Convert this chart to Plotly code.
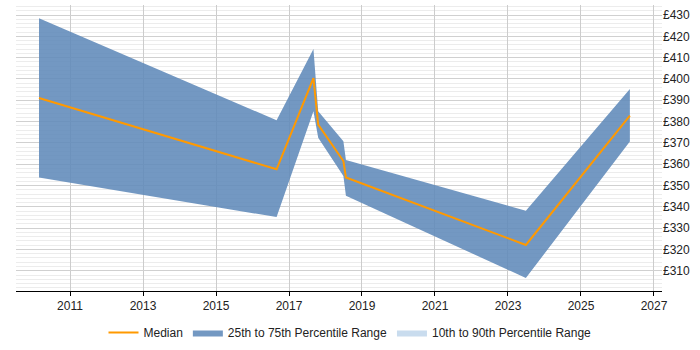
import plotly.graph_objects as go

years = [2010.15, 2016.66, 2017.67, 2017.80, 2018.49, 2018.56, 2023.49, 2026.34]
p75 = [428.5, 380.6, 414.0, 384.9, 370.8, 362.0, 338.2, 395.3]
median = [391.1, 357.6, 400.4, 378.6, 361.5, 353.8, 322.1, 382.8]
p25 = [353.8, 335.2, 384.9, 372.4, 354.5, 345.2, 306.6, 370.7]

x_ticks = [2011, 2013, 2015, 2017, 2019, 2021, 2023, 2025, 2027]
y_ticks = list(range(310, 431, 10))
y_labels = [f"£{v}" for v in y_ticks]

band_color = "rgba(96,138,185,0.88)"
fig = go.Figure()
fig.add_trace(go.Scatter(x=years, y=p25, mode="lines", line=dict(width=0, color=band_color),
                         showlegend=False, hoverinfo="skip"))
fig.add_trace(go.Scatter(x=years, y=p75, mode="lines", line=dict(width=0, color=band_color),
                         fill="tonexty", fillcolor=band_color, legendrank=2,
                         name="25th to 75th Percentile Range"))
fig.add_trace(go.Scatter(x=years, y=median, mode="lines", line=dict(width=2, color="#FF9900"),
                         legendrank=1, name="Median"))
fig.add_trace(go.Scatter(x=[None], y=[None], mode="lines", line=dict(width=0, color="#c9dcee"),
                         fill="toself", fillcolor="#c9dcee", legendrank=3,
                         name="10th to 90th Percentile Range"))

fig.update_layout(
    width=700, height=350,
    margin=dict(l=16, r=38, t=5, b=58),
    paper_bgcolor="white", plot_bgcolor="white",
    font=dict(family="Liberation Sans, Arial, sans-serif", size=12, color="#222"),
    legend=dict(orientation="h", x=0.5, xanchor="center", xref="container",
                y=0.05, yanchor="middle", yref="container", itemwidth=30,
                traceorder="normal", font=dict(size=12)),
    showlegend=True,
)
fig.update_xaxes(range=[2009.52, 2027.22], tickvals=x_ticks, ticktext=[str(v) for v in x_ticks],
                 showgrid=True, gridcolor="#cccccc", gridwidth=1,
                 showline=True, linecolor="#000", linewidth=1,
                 ticks="outside", ticklen=4, tickcolor="#000", zeroline=False)
fig.update_yaxes(range=[300.7, 434.7], side="right", tickvals=y_ticks, ticktext=y_labels,
                 showgrid=True, gridcolor="#d0d0d0", gridwidth=1,
                 minor=dict(dtick=2, showgrid=True, gridcolor="#ececec", gridwidth=1),
                 zeroline=False, showline=False, ticks="")

fig.write_html("out.html")
